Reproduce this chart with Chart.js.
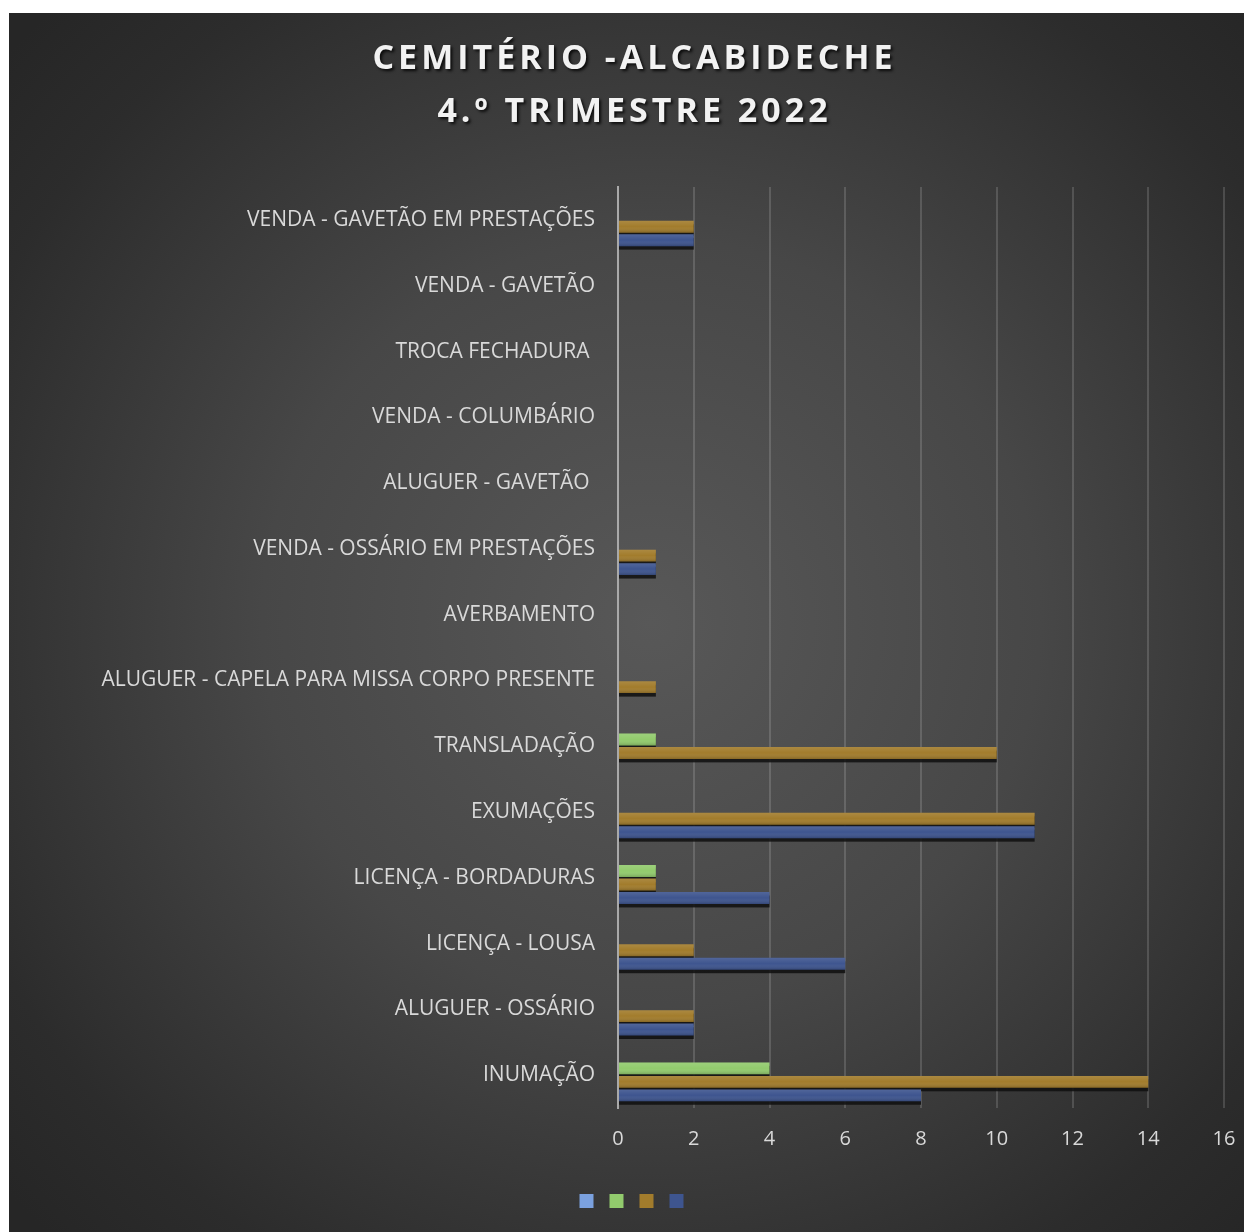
<!DOCTYPE html>
<html lang="pt">
<head>
<meta charset="utf-8">
<title>Cemitério - Alcabideche</title>
<script src="https://cdn.jsdelivr.net/npm/chart.js@4.4.1/dist/chart.umd.min.js"></script>
<style>
  html, body { margin: 0; padding: 0; background: #fff; }
  #quadro {
    position: absolute; left: 9px; top: 13px; width: 1235px; height: 1219px;
    background: radial-gradient(ellipse 70% 70% at 52% 50%, #585858 0%, #474747 45%, #2c2c2c 85%, #262626 100%);
  }
</style>
</head>
<body>
<div id="quadro"><canvas id="grafico"></canvas></div>
<script>
// Categorias (de cima para baixo)
const categorias = [
    'VENDA - GAVETÃO EM PRESTAÇÕES',
    'VENDA - GAVETÃO',
    'TROCA FECHADURA ',
    'VENDA - COLUMBÁRIO',
    'ALUGUER - GAVETÃO ',
    'VENDA - OSSÁRIO EM PRESTAÇÕES',
    'AVERBAMENTO',
    'ALUGUER - CAPELA PARA MISSA CORPO PRESENTE',
    'TRANSLADAÇÃO',
    'EXUMAÇÕES',
    'LICENÇA - BORDADURAS',
    'LICENÇA - LOUSA',
    'ALUGUER - OSSÁRIO',
    'INUMAÇÃO'
];

// Séries (mesma ordem das categorias)
const serieAzulClaro = [0, 0, 0, 0, 0, 0, 0, 0, 0, 0, 0, 0, 0, 0];
const serieVerde     = [0, 0, 0, 0, 0, 0, 0, 0, 1, 0, 1, 0, 0, 4];
const serieDourado   = [2, 0, 0, 0, 0, 1, 0, 1, 10, 11, 1, 2, 2, 14];
const serieAzul      = [2, 0, 0, 0, 0, 1, 0, 0, 0, 11, 4, 6, 2, 8];

const eixoMin = 0;
const eixoMax = 16;
const eixoPasso = 2;

const corTexto = '#d9d9d9';
const fonte = "'Open Sans', 'Noto Sans', sans-serif";

// percorre as barras desenhadas com largura visível
function cadaBarra(chart, fn) {
    chart.data.datasets.forEach(function(ds, i) {
        const meta = chart.getDatasetMeta(i);
        if (meta.hidden) return;
        meta.data.forEach(function(bar) {
            const x0 = Math.min(bar.base, bar.x);
            const x1 = Math.max(bar.base, bar.x);
            if (x1 - x0 < 0.5) return;
            fn(bar, x0, x1, bar.y - bar.height / 2);
        });
    });
}

// sombra por baixo e brilho por cima das barras
const efeitoBarras = {
    id: 'efeitoBarras',
    beforeDatasetsDraw(chart) {
        const ctx = chart.ctx;
        ctx.save();
        ctx.fillStyle = 'rgba(15,15,15,0.85)';
        cadaBarra(chart, function(bar, x0, x1, topo) {
            ctx.fillRect(x0, topo + 3.5, x1 - x0, bar.height);
        });
        ctx.restore();
    },
    afterDatasetsDraw(chart) {
        const ctx = chart.ctx;
        ctx.save();
        cadaBarra(chart, function(bar, x0, x1, topo) {
            const g = ctx.createLinearGradient(0, topo, 0, topo + bar.height);
            g.addColorStop(0, 'rgba(255,255,255,0.10)');
            g.addColorStop(0.5, 'rgba(255,255,255,0)');
            g.addColorStop(1, 'rgba(0,0,0,0.18)');
            ctx.fillStyle = g;
            ctx.fillRect(x0, topo, x1 - x0, bar.height);
        });
        ctx.restore();
    }
};

// título com sombra e espaçamento entre letras
const tituloSombra = {
    id: 'tituloSombra',
    afterLayout(chart) {
        const tb = chart.titleBlock;
        if (!tb || tb._comSombra) return;
        const desenhar = tb.draw.bind(tb);
        tb.draw = function(area) {
            const ctx = chart.ctx;
            ctx.save();
            ctx.shadowColor = 'rgba(0,0,0,0.8)';
            ctx.shadowOffsetX = 2;
            ctx.shadowOffsetY = 2;
            ctx.shadowBlur = 3;
            ctx.letterSpacing = '4px';
            desenhar(area);
            ctx.restore();
        };
        tb._comSombra = true;
    }
};

const ctx = document.getElementById('grafico').getContext('2d');

new Chart(ctx, {
    type: 'bar',
    data: {
        labels: categorias,
        datasets: [
            { label: '', data: serieAzulClaro, backgroundColor: '#7ba1df' },
            { label: '', data: serieVerde, backgroundColor: '#92cb6d' },
            { label: '', data: serieDourado, backgroundColor: '#a27c2c' },
            { label: '', data: serieAzul, backgroundColor: '#3e558f' }
        ]
    },
    options: {
        indexAxis: 'y',
        responsive: true,
        maintainAspectRatio: false,
        animation: false,
        datasets: {
            bar: {
                categoryPercentage: 0.82,
                barPercentage: 0.88,
                borderWidth: 0
            }
        },
        layout: {
            padding: { left: 36, right: 20, top: 0, bottom: 14 }
        },
        scales: {
            x: {
                min: eixoMin,
                max: eixoMax,
                ticks: {
                    stepSize: eixoPasso,
                    color: corTexto,
                    font: { family: fonte, size: 20 },
                    padding: 19
                },
                grid: {
                    color: 'rgba(255,255,255,0.15)',
                    lineWidth: 2,
                    drawTicks: false
                },
                border: { display: false },
                afterFit: function(scale) {
                    scale.height = 76;
                    scale.paddingLeft = 0;
                    scale.paddingRight = 0;
                }
            },
            y: {
                ticks: {
                    color: corTexto,
                    font: { family: fonte, size: 21 },
                    padding: 23,
                    autoSkip: false
                },
                grid: { display: false, drawTicks: false },
                border: { display: true, color: '#a9a9a9', width: 2 },
                afterFit: function(scale) { scale.width = 573; }
            }
        },
        plugins: {
            title: {
                display: true,
                text: ['CEMITÉRIO -ALCABIDECHE', '4.º TRIMESTRE 2022'],
                color: '#f2f2f2',
                font: { family: fonte, size: 34, weight: 'bold', lineHeight: 1.56 },
                padding: { top: 20, bottom: 48 }
            },
            legend: {
                position: 'bottom',
                labels: {
                    boxWidth: 14,
                    boxHeight: 14,
                    padding: 10,
                    font: { size: 12 },
                    color: corTexto
                }
            },
            tooltip: { enabled: false }
        }
    },
    plugins: [efeitoBarras, tituloSombra]
});
</script>
</body>
</html>
